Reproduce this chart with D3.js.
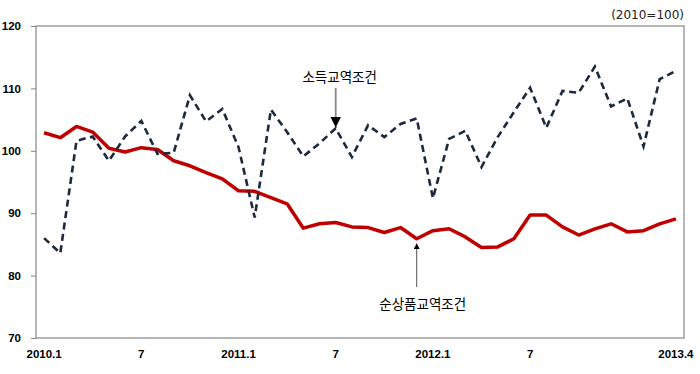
<!DOCTYPE html>
<html>
<head>
<meta charset="utf-8">
<script src="https://cdn.jsdelivr.net/npm/d3@7"></script>
<style>
  body { margin: 0; background: #fff; }
  svg { display: block; }
  .tick text { font-family: "Liberation Sans", Arial, sans-serif; font-weight: bold; font-size: 11.5px; fill: #000; }
  .note { font-family: "Noto Sans CJK KR", sans-serif; font-size: 13.5px; fill: #000; }
</style>
</head>
<body>
<div id="chart"></div>
<script>
const width = 700;
const height = 374;
const margin = { top: 26, right: 16, bottom: 36, left: 36 };

// months 2010.1 ... 2013.4
const months = d3.range(40);
const xTickIndex = [0, 6, 12, 18, 24, 30, 39];
const xTickLabels = ["2010.1", "7", "2011.1", "7", "2012.1", "7", "2013.4"];
const yTicks = [70, 80, 90, 100, 110, 120];

// 소득교역조건 (income terms of trade)
const incomeTot = [
  86.0, 83.6, 101.6, 102.3, 98.4, 102.3, 104.8, 99.5, 99.7, 108.9,
  104.7, 106.7, 100.6, 89.3, 106.6, 103.0, 99.1, 101.2, 103.6, 99.0,
  104.1, 102.2, 104.3, 105.2, 92.4, 101.9, 103.2, 97.4, 102.2, 106.2,
  110.1, 103.7, 109.6, 109.3, 113.5, 107.1, 108.4, 100.7, 111.5, 112.8
];
// 순상품교역조건 (net barter terms of trade)
const netTot = [
  102.9, 102.1, 103.9, 103.0, 100.4, 99.8, 100.5, 100.2, 98.4, 97.6,
  96.5, 95.5, 93.6, 93.5, 92.5, 91.5, 87.6, 88.3, 88.5, 87.8,
  87.7, 86.9, 87.7, 85.9, 87.2, 87.5, 86.2, 84.5, 84.6, 85.9,
  89.7, 89.7, 87.8, 86.5, 87.5, 88.3, 87.0, 87.2, 88.3, 89.1
];

const svg = d3.select("#chart").append("svg")
  .attr("width", width)
  .attr("height", height);

const x = d3.scaleBand()
  .domain(months)
  .range([margin.left, width - margin.right]);

const y = d3.scaleLinear()
  .domain([70, 120])
  .range([height - margin.bottom, margin.top]);

const cx = i => x(i) + x.bandwidth() / 2;

// y axis
svg.append("g")
  .attr("transform", "translate(" + margin.left + ",0)")
  .call(d3.axisLeft(y).tickValues(yTicks).tickSize(5).tickPadding(10))
  .call(g => g.select(".domain").remove())
  .call(g => g.selectAll(".tick line").attr("stroke", "#868686"));

// x axis (labels only)
svg.append("g")
  .attr("transform", "translate(0," + (height - margin.bottom) + ")")
  .call(d3.axisBottom(x)
    .tickValues(xTickIndex)
    .tickFormat((d, i) => xTickLabels[i])
    .tickSize(0)
    .tickPadding(12))
  .call(g => g.select(".domain").remove());

// plot frame
svg.append("rect")
  .attr("x", margin.left)
  .attr("y", margin.top)
  .attr("width", width - margin.left - margin.right)
  .attr("height", height - margin.top - margin.bottom)
  .attr("fill", "none")
  .attr("stroke", "#868686")
  .attr("stroke-width", 1.2);

const line = d3.line()
  .x((d, i) => cx(i))
  .y(d => y(d));

svg.append("path")
  .datum(netTot)
  .attr("fill", "none")
  .attr("stroke", "#c00000")
  .attr("stroke-width", 3.5)
  .attr("stroke-linejoin", "round")
  .attr("d", line);

svg.append("path")
  .datum(incomeTot)
  .attr("fill", "none")
  .attr("stroke", "#1b2a3e")
  .attr("stroke-width", 2.6)
  .attr("stroke-dasharray", "7,4.5")
  .attr("d", line);

// unit note
svg.append("text")
  .attr("x", width - margin.right)
  .attr("y", 19)
  .attr("text-anchor", "end")
  .style("font-family", "'DejaVu Sans', sans-serif")
  .style("font-size", "12px")
  .style("fill", "#222")
  .text("(2010=100)");

// arrow marker
svg.append("defs").append("marker")
  .attr("id", "arrow")
  .attr("viewBox", "0 0 10 10")
  .attr("refX", 9)
  .attr("refY", 5)
  .attr("markerWidth", 6)
  .attr("markerHeight", 6)
  .attr("orient", "auto")
  .append("path")
  .attr("d", "M0,0L10,5L0,10Z")
  .attr("fill", "#000");

// annotations
const incomeIdx = 18;
svg.append("text")
  .attr("class", "note")
  .attr("x", cx(incomeIdx) + 4)
  .attr("y", 82)
  .attr("text-anchor", "middle")
  .text("소득교역조건");
svg.append("line")
  .attr("x1", cx(incomeIdx)).attr("x2", cx(incomeIdx))
  .attr("y1", 88).attr("y2", y(incomeTot[incomeIdx]) - 2)
  .attr("stroke", "#888")
  .attr("stroke-width", 1.8)
  .attr("marker-end", "url(#arrow)");

const netIdx = 23;
svg.append("text")
  .attr("class", "note")
  .attr("x", cx(netIdx) + 6)
  .attr("y", 309)
  .attr("text-anchor", "middle")
  .text("순상품교역조건");
svg.append("line")
  .attr("x1", cx(netIdx)).attr("x2", cx(netIdx))
  .attr("y1", 287).attr("y2", y(netTot[netIdx]) + 5)
  .attr("stroke", "#555")
  .attr("stroke-width", 1)
  .attr("marker-end", "url(#arrow)");
</script>
</body>
</html>
